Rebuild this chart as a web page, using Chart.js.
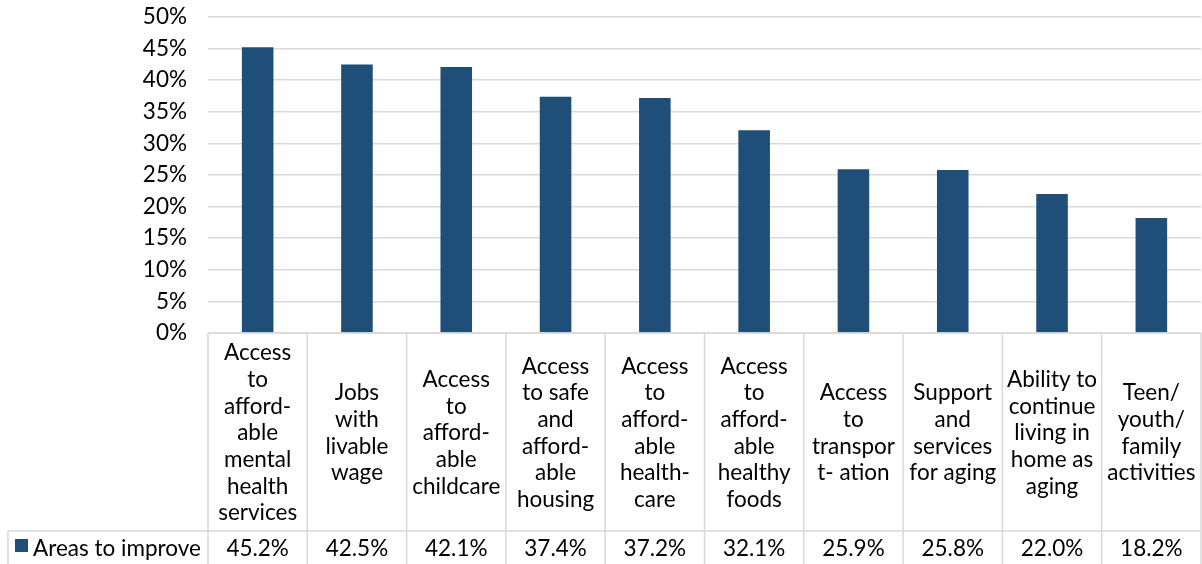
<!DOCTYPE html>
<html>
<head>
<meta charset="utf-8">
<script src="https://cdn.jsdelivr.net/npm/chart.js@4/dist/chart.umd.min.js"></script>
<style>
  html, body { margin: 0; padding: 0; background: #fff; }
  #wrap { width: 1202px; height: 564px; position: relative; }
</style>
</head>
<body>
<div id="wrap"><canvas id="c" width="1202" height="564"></canvas></div>
<script>
const categories = [
  ["Access","to","afford-","able","mental","health","services"],
  ["Jobs","with","livable","wage"],
  ["Access","to","afford-","able","childcare"],
  ["Access","to safe","and","afford-","able","housing"],
  ["Access","to","afford-","able","health-","care"],
  ["Access","to","afford-","able","healthy","foods"],
  ["Access","to","transpor","t- ation"],
  ["Support","and","services","for aging"],
  ["Ability to","continue","living in","home as","aging"],
  ["Teen/","youth/","family","activities"]
];
const seriesName = "Areas to improve";
const values = [45.2, 42.5, 42.1, 37.4, 37.2, 32.1, 25.9, 25.8, 22.0, 18.2];
const yTicks = [0, 5, 10, 15, 20, 25, 30, 35, 40, 45, 50];

const FONT = "Lato, 'Open Sans', sans-serif";
const FS = 22.5;
const LINE_H = 26.7;
const GRID = "#D9D9D9";
const BAR = "#1F4E79";
const TXT = "#000000";

const tablePlugin = {
  id: 'dataTable',
  afterDraw(chart) {
    const ctx = chart.ctx;
    const x = chart.scales.x;
    const area = chart.chartArea;
    const n = categories.length;
    const colW = (area.right - area.left) / n;
    const top = area.bottom;
    const rowTop = top + 198;
    const rowBottom = rowTop + 34;
    ctx.save();
    ctx.strokeStyle = GRID;
    ctx.lineWidth = 1.5;
    ctx.beginPath();
    ctx.moveTo(area.left, top); ctx.lineTo(area.right, top);
    ctx.moveTo(8, rowTop); ctx.lineTo(area.right, rowTop);
    ctx.moveTo(8, rowBottom); ctx.lineTo(area.right, rowBottom);
    for (let i = 0; i <= n; i++) {
      const px = area.left + i * colW;
      ctx.moveTo(px, top); ctx.lineTo(px, rowBottom);
    }
    ctx.moveTo(8, rowTop); ctx.lineTo(8, rowBottom);
    ctx.stroke();

    ctx.fillStyle = TXT;
    ctx.font = FS + "px " + FONT;
    ctx.textAlign = "center";
    ctx.textBaseline = "middle";
    const cellMid = (top + rowTop) / 2;
    categories.forEach((lines, i) => {
      const cx = x.getPixelForValue(i);
      const startY = cellMid - (lines.length - 1) * LINE_H / 2;
      lines.forEach((ln, j) => ctx.fillText(ln, cx, startY + j * LINE_H + 1));
      ctx.fillText(values[i].toFixed(1) + "%", cx, (rowTop + rowBottom) / 2 + 1);
    });
    ctx.fillStyle = BAR;
    ctx.fillRect(15, 539, 13, 13);
    ctx.fillStyle = TXT;
    ctx.textAlign = "left";
    ctx.fillText(seriesName, 33, (rowTop + rowBottom) / 2 + 1);
    ctx.restore();
  }
};

function build() {
  new Chart(document.getElementById('c'), {
    type: 'bar',
    data: {
      labels: categories.map(l => l.join(' ')),
      datasets: [{
        label: seriesName,
        data: values,
        backgroundColor: BAR,
        borderWidth: 0,
        barPercentage: 0.318,
        categoryPercentage: 1.0
      }]
    },
    options: {
      responsive: false,
      animation: false,
      layout: { padding: { top: 17, left: 0, right: 1, bottom: 231 } },
      plugins: { legend: { display: false }, tooltip: { enabled: false } },
      scales: {
        x: { display: false, offset: true },
        y: {
          min: 0, max: 50,
          afterFit(scale) { scale.width = 208; scale.paddingTop = 0; scale.paddingBottom = 0; },
          afterBuildTicks(scale) { scale.ticks = yTicks.map(v => ({ value: v })); },
          ticks: {
            stepSize: 5,
            padding: 21,
            color: TXT,
            font: { family: FONT, size: FS },
            callback: v => v + '%'
          },
          grid: { color: GRID, lineWidth: 1.5, drawTicks: false },
          border: { display: false }
        }
      }
    },
    plugins: [tablePlugin]
  });
}
if (document.fonts && document.fonts.load) {
  document.fonts.load(FS + "px Lato").then(build, build);
} else { build(); }
</script>
</body>
</html>
